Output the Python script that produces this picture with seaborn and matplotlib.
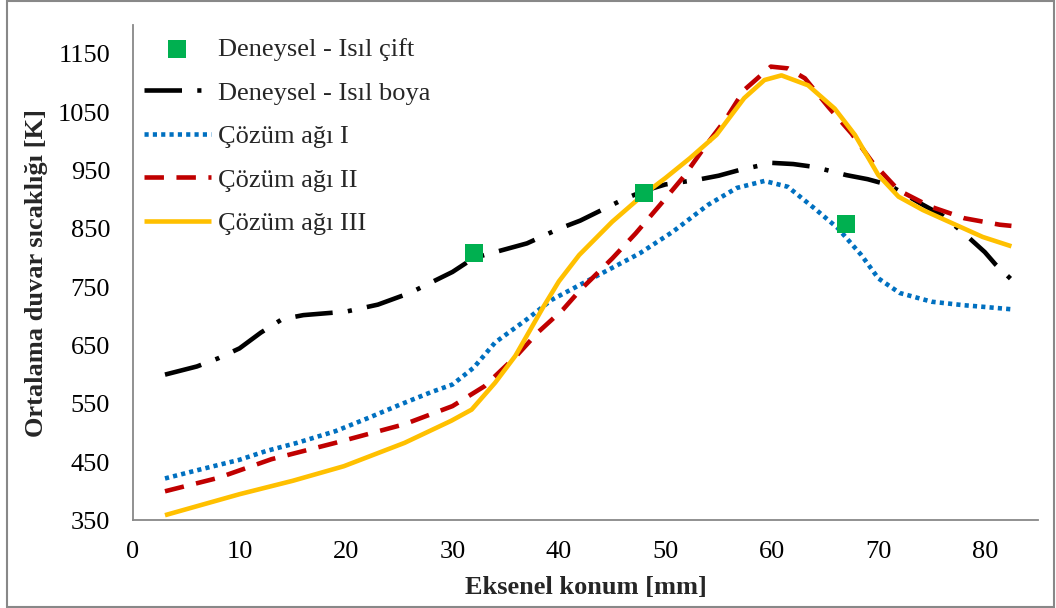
import matplotlib
matplotlib.use("Agg")
import matplotlib.pyplot as plt
import seaborn as sns
from matplotlib.patches import Rectangle

# ---------------- data ----------------
exp_tc_x = [32, 48, 67]
exp_tc_y = [808, 911, 858]

exp_paint_x = [3, 6, 8, 10, 12, 14, 16, 18, 20, 23, 26, 28, 30, 32, 35, 37, 40, 42, 44, 46, 48,
               50, 53, 55, 57, 60, 62, 64, 67, 69, 71, 74, 76, 78, 80, 81, 82.5]
exp_paint_y = [600, 614, 628, 645, 672, 695, 702, 705, 708, 720, 740, 758, 776, 800, 815, 825, 850,
               864, 882, 900, 915, 926, 934, 941, 951, 963, 961, 956, 942, 935, 925, 893, 873, 843,
               810, 789, 763]

mesh1_x = [3, 6, 10, 12.5, 15.4, 19, 22, 25, 28, 30, 32, 34, 37, 39.3, 42.5, 45, 47.6, 50.7, 54,
           56.7, 59.3, 61.5, 64, 66.2, 68.4, 70, 72, 75, 78, 80, 82.5]
mesh1_y = [422, 436, 454, 469, 483, 503, 525, 548, 570, 583, 612, 655, 695, 728, 759, 783, 808, 845,
           891, 920, 932, 922, 885, 851, 805, 765, 740, 725, 719, 716, 712]

mesh2_x = [3, 8, 13, 19, 25.5, 30, 33, 36, 38, 40.4, 42, 45, 47.2, 49.5, 51.7, 53.6, 55.6, 57.4,
           59.9, 61.5, 63.1, 65.3, 67.5, 69.4, 71.9, 74.9, 78.1, 81.4, 82.5]
mesh2_y = [400, 423, 455, 483, 515, 546, 580, 632, 672, 712, 745, 799, 842, 891, 939, 988, 1036,
           1088, 1128, 1125, 1108, 1059, 1013, 965, 916, 888, 868, 857, 855]

mesh3_x = [3, 10, 15, 19.8, 25.5, 29.9, 31.8, 34, 35.9, 38.5, 40, 41.9, 45, 47.9, 50, 52.3, 54.8,
           57.4, 59.3, 60.9, 63.4, 65.9, 67.8, 70, 71.9, 74.2, 77, 79.8, 82.5]
mesh3_y = [359, 395, 418, 443, 483, 521, 540, 586, 632, 715, 760, 805, 862, 908, 937, 971, 1011,
           1074, 1105, 1113, 1096, 1056, 1011, 942, 905, 882, 859, 836, 820]

labels = ["Deneysel - Isıl çift", "Deneysel - Isıl boya", "Çözüm ağı I", "Çözüm ağı II", "Çözüm ağı III"]
x_ticks = [0, 10, 20, 30, 40, 50, 60, 70, 80]
y_ticks = [350, 450, 550, 650, 750, 850, 950, 1050, 1150]

# ---------------- style ----------------
sns.set_theme(style="white")
plt.rcParams["font.family"] = ["Liberation Serif", "DejaVu Serif"]
plt.rcParams["lines.scale_dashes"] = False

fig, ax = plt.subplots(figsize=(10.56, 6.08), dpi=100)
fig.subplots_adjust(left=0.126, right=0.983, top=0.9595, bottom=0.144)

lw = 3.3
sns.lineplot(x=exp_paint_x, y=exp_paint_y, ax=ax, color="black", linewidth=lw,
             linestyle=(0, (27, 11, 3, 11)), label=labels[1], sort=False)
sns.lineplot(x=mesh1_x, y=mesh1_y, ax=ax, color="#0070C0", linewidth=lw,
             linestyle=(0, (3, 3)), label=labels[2], sort=False)
sns.lineplot(x=mesh2_x, y=mesh2_y, ax=ax, color="#C00000", linewidth=lw,
             linestyle=(0, (14, 9)), label=labels[3], sort=False)
sns.lineplot(x=mesh3_x, y=mesh3_y, ax=ax, color="#FFC000", linewidth=lw,
             linestyle="-", label=labels[4], sort=False)
sns.scatterplot(x=exp_tc_x, y=exp_tc_y, ax=ax, color="#00B050", marker="s", s=150,
                linewidth=0, label=labels[0], zorder=5)

for ln in ax.lines:
    ln.set_dash_capstyle("butt")
    ln.set_solid_capstyle("butt")
    ln.set_solid_joinstyle("round")
    ln.set_dash_joinstyle("round")

ax.set_xlim(0, 85)
ax.set_ylim(350, 1200)
ax.set_xticks(x_ticks)
ax.set_yticks(y_ticks)

spine_col = "#888888"
for s in ["top", "right"]:
    ax.spines[s].set_visible(False)
for s in ["left", "bottom"]:
    ax.spines[s].set_color(spine_col)
    ax.spines[s].set_linewidth(1.3)

fs = 19
ax.tick_params(axis="both", which="major", direction="out", length=5.5, width=1.3,
               color=spine_col, labelcolor="black", labelsize=fs, pad=9)
ax.tick_params(axis="y", pad=11)

ax.set_xlabel("Eksenel konum [mm]", fontsize=fs, fontweight="bold", labelpad=10)
ax.set_ylabel("Ortalama duvar sıcaklığı [K]", fontsize=fs, fontweight="bold", labelpad=7)

handles, labs = ax.get_legend_handles_labels()
order = [labs.index(l) for l in labels]
ax.legend([handles[i] for i in order], [labs[i] for i in order], loc="upper left",
          bbox_to_anchor=(0, 0.995), borderaxespad=0, frameon=False, fontsize=fs,
          handlelength=2.55, handletextpad=0.28, labelspacing=0.76)

fig.patches.append(Rectangle((0.007, 0.002), 0.991, 0.996, transform=fig.transFigure,
                             fill=False, edgecolor="#888888", linewidth=1.5))

fig.savefig("out.png", dpi=100)
